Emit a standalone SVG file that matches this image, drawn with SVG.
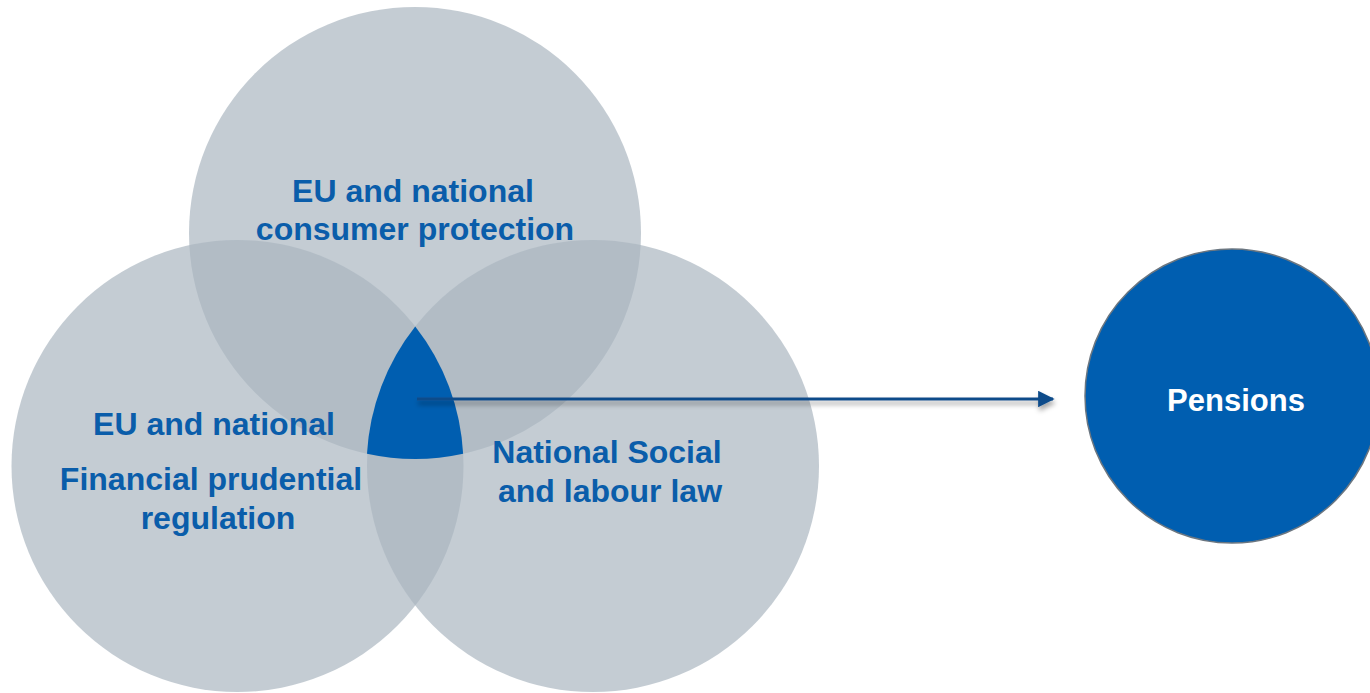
<svg xmlns="http://www.w3.org/2000/svg" width="1370" height="693" viewBox="0 0 1370 693">
<style>
.venn{fill:#AAB5BF;fill-opacity:0.69;}
.lbl{font-family:"Liberation Sans",Arial,sans-serif;font-weight:bold;font-size:32px;fill:#0A5DAA;text-anchor:middle;}
.wlbl{font-family:"Liberation Sans",Arial,sans-serif;font-weight:bold;font-size:31px;fill:#FFFFFF;text-anchor:middle;}
</style>
<defs>
<marker id="ah" viewBox="0 0 10 10" refX="9" refY="5" markerWidth="5.5" markerHeight="5.5" orient="auto" markerUnits="strokeWidth">
<path d="M0,0 L10,5 L0,10 Z" fill="#0F4C8A"/>
</marker>
<filter id="sh" filterUnits="userSpaceOnUse" x="400" y="380" width="680" height="40">
<feDropShadow dx="1" dy="4" stdDeviation="2.5" flood-color="#000" flood-opacity="0.35"/>
</filter>
</defs>
<rect width="1370" height="693" fill="#FFFFFF"/>
<g id="consumer">
<circle class="venn" cx="415" cy="233" r="226"/>
<text class="lbl" x="413" y="202">EU and national</text>
<text class="lbl" x="415" y="240">consumer protection</text>
</g>
<g id="prudential">
<circle class="venn" cx="237.5" cy="466" r="226"/>
</g>
<g id="social">
<circle class="venn" cx="593" cy="466" r="226"/>
</g>
<g id="core">
<path d="M415.25,326.4 A226,226 0 0 0 367,453.8 A226,226 0 0 0 463.1,453.8 A226,226 0 0 0 415.25,326.4 Z" fill="#005EB0"/>
</g>
<g id="labels">
<text class="lbl" x="214" y="435">EU and national</text>
<text class="lbl" x="211" y="490">Financial prudential</text>
<text class="lbl" x="218" y="529">regulation</text>
<text class="lbl" x="607" y="463">National Social</text>
<text class="lbl" x="610" y="502">and labour law</text>
</g>
<g id="pensions">
<circle cx="1232" cy="396" r="147" fill="#005EB0" stroke="#6B7680" stroke-width="1.5"/>
<text class="wlbl" x="1236" y="411">Pensions</text>
</g>
<g id="connectors">
<line x1="417" y1="399" x2="1053" y2="399" stroke="#0F4C8A" stroke-width="3" marker-end="url(#ah)" filter="url(#sh)"/>
</g>
</svg>
